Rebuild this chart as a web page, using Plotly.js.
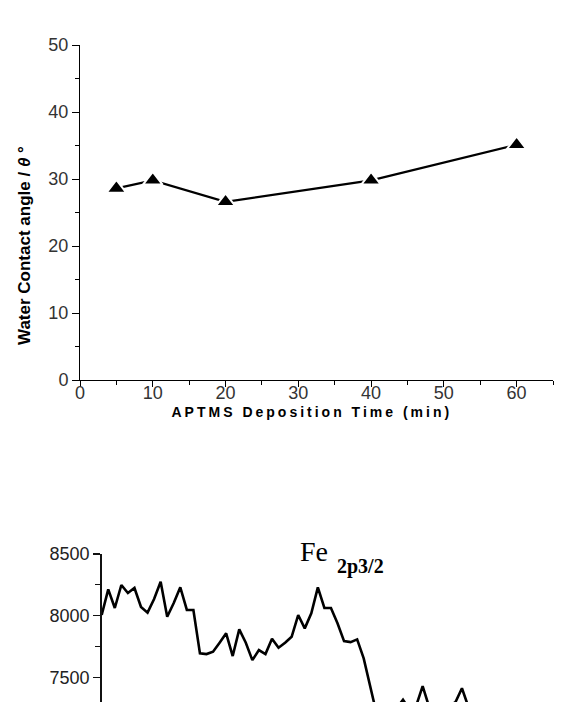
<!DOCTYPE html>
<html>
<head>
<meta charset="utf-8">
<script src="https://cdn.plot.ly/plotly-3.0.1.min.js"></script>
<style>
html,body{margin:0;padding:0;background:#fff;}
#chart{width:577px;height:702px;}
</style>
</head>
<body>
<div id="chart"></div>
<script>
// ---- Top chart: water contact angle vs APTMS deposition time ----
const depositionTime = [5, 10, 20, 40, 60];
const contactAngle = [28.6, 29.8, 26.6, 29.8, 35.1];

// ---- Bottom chart: Fe 2p3/2 XPS spectrum (partially visible) ----
const bindingEnergy = [
  716.0, 715.8, 715.6, 715.4, 715.2, 715.0, 714.8, 714.6, 714.4, 714.2,
  714.0, 713.8, 713.6, 713.4, 713.2, 713.0, 712.8, 712.6, 712.4, 712.2,
  712.0, 711.8, 711.6, 711.4, 711.2, 711.0, 710.8, 710.6, 710.4, 710.2,
  710.0, 709.8, 709.6, 709.4, 709.2, 709.0, 708.8, 708.6, 708.4, 708.2,
  708.0, 707.8, 707.6, 707.4, 707.2, 707.0, 706.8, 706.6, 706.4, 706.2,
  706.0, 705.8, 705.6, 705.4, 705.2, 705.0, 704.8, 704.6, 704.4
];
const intensity = [
  8006, 8214, 8063, 8249, 8184, 8225, 8071, 8025, 8136, 8276,
  7992, 8103, 8230, 8047, 8047, 7696, 7690, 7709, 7782, 7858,
  7674, 7890, 7782, 7641, 7722, 7690, 7814, 7741, 7782, 7830,
  8006, 7898, 8020, 8230, 8063, 8063, 7939, 7795, 7787, 7809,
  7655, 7420, 7200, 7150, 7190, 7250, 7320, 7240, 7270, 7430,
  7260, 7290, 7230, 7270, 7300, 7413, 7260, 7180, 7120
];

const W = 577, H = 702;
const px = v => v / W;
const py = v => (H - v) / H;

const traces = [
  {
    x: depositionTime, y: contactAngle, xaxis: 'x', yaxis: 'y',
    type: 'scatter', mode: 'lines+markers',
    line: {color: '#000', width: 2.2},
    marker: {symbol: 'triangle-up', size: 17, color: '#000', line: {color: '#fff', width: 2}},
    cliponaxis: false, hoverinfo: 'skip'
  },
  {
    x: bindingEnergy, y: intensity, xaxis: 'x2', yaxis: 'y2',
    type: 'scatter', mode: 'lines',
    line: {color: '#000', width: 2.6},
    hoverinfo: 'skip'
  }
];

const tickFont = {family: 'Liberation Sans, Arial, sans-serif', size: 18, color: '#333'};

const layout = {
  width: W, height: H,
  margin: {l: 0, r: 0, t: 0, b: 0},
  paper_bgcolor: '#fff', plot_bgcolor: '#fff',
  showlegend: false,
  xaxis: {
    domain: [px(80), px(553)], anchor: 'y',
    range: [0, 65], dtick: 10, tick0: 0,
    showgrid: false, zeroline: false,
    showline: true, linecolor: '#000', linewidth: 1,
    ticks: 'outside', ticklen: 6, tickwidth: 1, tickcolor: '#000',
    ticklabelstandoff: -10,
    minor: {dtick: 5, tick0: 5, ticks: 'outside', ticklen: 4, tickcolor: '#000', showgrid: false},
    tickfont: tickFont
  },
  yaxis: {
    domain: [py(380), py(45)], anchor: 'x',
    range: [0, 50], dtick: 10, tick0: 0,
    showgrid: false, zeroline: false,
    showline: true, linecolor: '#000', linewidth: 1,
    ticks: 'outside', ticklen: 7, tickwidth: 1, tickcolor: '#000',
    minor: {dtick: 5, tick0: 5, ticks: 'outside', ticklen: 4, tickcolor: '#000', showgrid: false},
    tickfont: tickFont
  },
  xaxis2: {
    domain: [px(101.7), px(553)], anchor: 'y2',
    range: [716.0, 702.22],
    visible: false, showgrid: false, zeroline: false
  },
  yaxis2: {
    domain: [0, py(554)], anchor: 'x2',
    range: [7302, 8500], dtick: 500, tick0: 7500,
    showgrid: false, zeroline: false,
    showline: true, linecolor: '#111', linewidth: 1.5,
    ticks: 'outside', ticklen: 7, tickwidth: 1.2, tickcolor: '#111',
    minor: {dtick: 250, tick0: 7250, ticks: 'outside', ticklen: 5, tickcolor: '#111', showgrid: false},
    tickfont: {family: 'Liberation Sans, Arial, sans-serif', size: 18, color: '#222'}
  },
  annotations: [
    {
      text: '<b>Water Contact angle / <i>θ</i> °</b>',
      xref: 'paper', yref: 'paper', x: px(25), y: py(246),
      xanchor: 'center', yanchor: 'middle', textangle: -90, showarrow: false,
      font: {family: 'Liberation Sans, Arial, sans-serif', size: 17, color: '#000'}
    },
    {
      text: '<b>APTMS Deposition Time (min)</b>',
      xref: 'paper', yref: 'paper', x: px(312), y: py(412),
      xanchor: 'center', yanchor: 'middle', showarrow: false,
      font: {family: 'Liberation Sans, Arial, sans-serif', size: 14, color: '#000'}
    },
    {
      text: 'Fe',
      xref: 'paper', yref: 'paper', x: px(298), y: py(551),
      xanchor: 'left', yanchor: 'middle', showarrow: false,
      font: {family: 'Liberation Serif, Times New Roman, serif', size: 28, color: '#000'}
    },
    {
      text: '<b>2p3/2</b>',
      xref: 'paper', yref: 'paper', x: px(335), y: py(566),
      xanchor: 'left', yanchor: 'middle', showarrow: false,
      font: {family: 'Liberation Serif, Times New Roman, serif', size: 20, color: '#000'}
    },
    {
      text: '<b>Intensity (counts/s)</b>',
      xref: 'paper', yref: 'paper', x: px(28), y: py(699),
      xanchor: 'center', yanchor: 'top', textangle: -90, showarrow: false,
      font: {family: 'Liberation Sans, Arial, sans-serif', size: 15, color: '#000'}
    }
  ]
};

Plotly.newPlot('chart', traces, layout, {staticPlot: true, displayModeBar: false}).then(() => {
  document.querySelectorAll('.annotation-text').forEach(t => {
    if (t.textContent.indexOf('APTMS') === 0) t.style.letterSpacing = '3px';
  });
});
</script>
</body>
</html>
